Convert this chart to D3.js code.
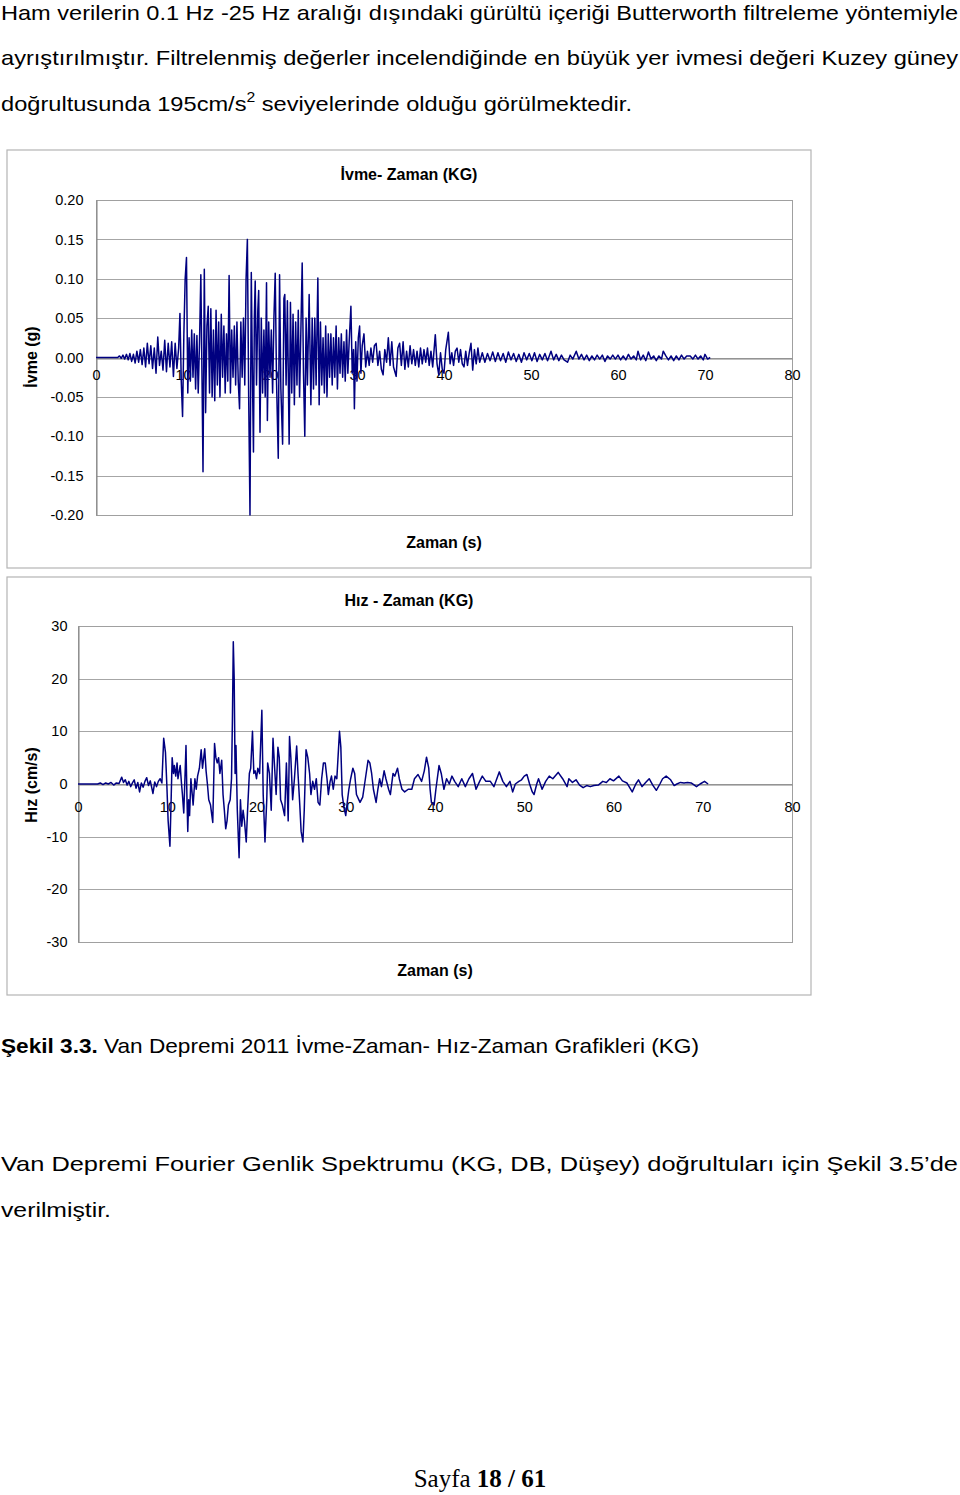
<!DOCTYPE html>
<html><head><meta charset="utf-8">
<script src="https://cdn.jsdelivr.net/npm/d3@7"></script>
<style>body{margin:0;background:#fff}svg{display:block}</style>
</head><body>
<script>
// ---------- DATA ----------
const xTicks = [0,10,20,30,40,50,60,70,80];
const accYTicks = [-0.20,-0.15,-0.10,-0.05,0.00,0.05,0.10,0.15,0.20];
const velYTicks = [-30,-20,-10,0,10,20,30];

// Acceleration (g) vs time (s)
const accel = [[0,0],[2.5,0],[2.7,0.002],[2.9,-0.001],[3.1,0.003],[3.3,-0.002],[3.5,0.004],[3.7,-0.003],[3.9,0.005],[4.1,-0.005],[4.3,0.004],[4.5,-0.007],[4.7,0.008],[4.9,-0.006],[5.1,0.01],[5.3,-0.009],[5.5,0.012],[5.7,-0.012],[5.9,0.018],[6.1,-0.008],[6.3,0.015],[6.5,-0.014],[6.7,0.012],[6.9,-0.02],[7.1,0.026],[7.3,-0.01],[7.5,0.008],[7.7,-0.016],[7.9,0.022],[8.1,-0.018],[8.3,0.018],[8.5,-0.012],[8.7,0.02],[8.9,-0.024],[9.1,0.018],[9.3,-0.014],[9.5,0.012],[9.65,0.056],[9.8,-0.03],[9.95,-0.075],[10.1,0.03],[10.25,0.1],[10.4,0.127],[10.55,-0.045],[10.7,0.025],[10.85,-0.03],[11.0,0.035],[11.15,-0.025],[11.3,0.03],[11.45,-0.04],[11.6,0.028],[11.75,-0.045],[11.9,0.02],[12.05,0.105],[12.2,-0.04],[12.3,-0.145],[12.45,0.112],[12.6,-0.07],[12.75,0.04],[12.9,0.065],[13.05,-0.045],[13.2,0.062],[13.35,-0.05],[13.5,0.035],[13.65,-0.055],[13.8,0.06],[13.95,-0.035],[14.1,0.045],[14.25,-0.05],[14.4,0.055],[14.55,-0.025],[14.7,0.04],[14.85,-0.045],[15.0,0.03],[15.15,-0.03],[15.3,0.104],[15.45,-0.045],[15.6,0.035],[15.75,-0.025],[15.9,0.04],[16.05,-0.035],[16.2,0.045],[16.35,-0.03],[16.5,-0.065],[16.65,0.045],[16.8,-0.025],[16.95,0.05],[17.1,-0.035],[17.25,0.1],[17.4,0.15],[17.55,-0.05],[17.7,-0.2],[17.85,0.108],[18.0,-0.04],[18.1,-0.12],[18.2,0.05],[18.3,0.097],[18.45,-0.035],[18.6,0.06],[18.7,0.085],[18.85,-0.095],[19.0,0.05],[19.15,-0.045],[19.3,0.035],[19.45,-0.05],[19.6,0.095],[19.7,-0.08],[19.85,0.045],[20.0,-0.025],[20.15,0.035],[20.3,-0.045],[20.45,0.05],[20.6,0.107],[20.75,-0.03],[20.95,-0.128],[21.1,0.105],[21.25,-0.04],[21.45,-0.11],[21.6,0.075],[21.7,0.08],[21.85,-0.035],[22.0,0.072],[22.2,-0.11],[22.35,0.07],[22.5,-0.045],[22.65,0.055],[22.8,-0.06],[22.95,0.045],[23.1,-0.035],[23.25,0.06],[23.4,-0.05],[23.7,0.12],[23.85,-0.02],[24.0,-0.1],[24.15,0.05],[24.3,-0.035],[24.5,0.08],[24.7,-0.06],[24.85,0.05],[25.0,-0.04],[25.15,0.05],[25.3,-0.035],[25.5,0.101],[25.65,-0.06],[25.8,0.045],[25.95,-0.035],[26.1,0.025],[26.25,-0.045],[26.4,0.04],[26.55,-0.05],[26.7,0.03],[26.85,-0.025],[27.0,0.03],[27.15,-0.035],[27.3,0.025],[27.45,-0.025],[27.6,0.04],[27.75,-0.04],[27.9,0.025],[28.05,-0.02],[28.2,0.03],[28.35,-0.025],[28.5,0.02],[28.65,-0.03],[28.8,0.035],[28.95,-0.02],[29.1,0.02],[29.3,0.065],[29.45,-0.02],[29.6,0.01],[29.7,-0.065],[29.85,0.02],[30.0,-0.03],[30.15,0.025],[30.3,0.04],[30.45,-0.02],[30.6,0.015],[30.8,0.03],[31.0,-0.012],[31.2,0.008],[31.4,-0.01],[31.6,0.012],[31.8,-0.006],[32.0,0.015],[32.2,0.018],[32.4,-0.01],[32.6,0.008],[32.8,-0.015],[33.0,-0.022],[33.2,0.01],[33.4,-0.006],[33.6,0.025],[33.8,-0.01],[34.0,0.02],[34.2,-0.012],[34.5,-0.024],[34.7,0.012],[34.9,0.018],[35.1,-0.01],[35.3,0.02],[35.5,-0.015],[35.7,0.008],[35.9,-0.012],[36.1,0.015],[36.3,-0.008],[36.5,0.01],[36.7,-0.01],[36.9,0.008],[37.1,-0.012],[37.3,0.012],[37.5,-0.008],[37.7,0.01],[37.9,-0.006],[38.1,0.012],[38.3,-0.01],[38.5,0.008],[38.7,-0.012],[39.0,0.029],[39.2,-0.008],[39.4,-0.022],[39.6,0.006],[39.8,-0.015],[40.0,-0.02],[40.2,0.01],[40.5,0.032],[40.7,-0.008],[40.9,0.006],[41.1,-0.01],[41.3,0.008],[41.5,0.012],[41.7,-0.006],[41.9,0.01],[42.1,-0.008],[42.3,-0.012],[42.5,0.008],[42.7,-0.01],[42.9,0.006],[43.1,0.018],[43.3,-0.016],[43.5,0.01],[43.7,-0.008],[43.9,0.012],[44.1,-0.006],[44.4,0.006],[44.7,-0.006],[45.0,0.005],[45.3,-0.004],[45.6,0.007],[45.9,-0.005],[46.2,0.006],[46.5,-0.004],[46.8,0.005],[47.1,-0.006],[47.4,0.007],[47.7,-0.003],[48.0,0.005],[48.3,-0.005],[48.6,0.004],[48.9,-0.006],[49.2,0.006],[49.5,-0.003],[49.8,0.005],[50.1,-0.004],[50.4,0.006],[50.7,-0.005],[51.0,0.004],[51.3,-0.003],[51.6,0.005],[51.9,-0.004],[52.3,0.008],[52.6,-0.003],[52.9,0.004],[53.2,-0.004],[53.5,0.003],[53.8,-0.003],[54.2,-0.006],[54.5,0.003],[54.8,-0.002],[55.2,0.008],[55.5,-0.002],[55.8,0.004],[56.1,-0.003],[56.4,0.003],[56.7,-0.004],[57.0,0.002],[57.3,-0.003],[57.6,0.003],[57.9,-0.002],[58.2,0.003],[58.5,-0.005],[58.8,0.002],[59.1,-0.002],[59.4,0.003],[59.7,-0.002],[60.0,0.003],[60.3,-0.003],[60.6,0.002],[60.9,-0.003],[61.2,0.004],[61.5,-0.002],[61.8,0.002],[62.1,-0.003],[62.3,0.008],[62.6,-0.003],[62.9,0.003],[63.2,-0.004],[63.5,0.007],[63.8,-0.002],[64.1,0.002],[64.4,-0.004],[64.7,0.002],[65.0,-0.002],[65.2,0.008],[65.5,0.002],[65.8,-0.003],[66.1,0.002],[66.4,-0.004],[66.7,0.002],[67.0,-0.003],[67.3,0.003],[67.6,-0.002],[67.9,0.002],[68.3,0.002],[68.6,-0.002],[68.9,0.003],[69.2,-0.002],[69.5,0.002],[69.8,-0.003],[70.0,0.004],[70.3,-0.002],[70.6,0.0]];

// Velocity (cm/s) vs time (s)
const velocity = [[0,0],[2.2,0],[2.5,0.2],[2.8,-0.1],[3.1,0.2],[3.4,0],[3.7,0.3],[4.0,-0.2],[4.3,0.2],[4.6,0.1],[4.9,1.3],[5.1,0.3],[5.3,0.8],[5.5,-0.2],[5.7,0.5],[5.9,-0.5],[6.1,0.2],[6.3,0.8],[6.5,-0.8],[6.7,0.3],[6.9,-1.5],[7.1,0.2],[7.3,-0.6],[7.5,0.5],[7.7,1.2],[7.9,-0.3],[8.1,0.6],[8.4,-1.8],[8.6,0.4],[8.8,-0.5],[9.0,0.5],[9.2,1.0],[9.4,0.2],[9.6,8.7],[9.8,6],[9.95,0],[10.1,-7],[10.3,-11.8],[10.45,-2],[10.55,5],[10.7,2],[10.8,3.5],[10.95,1.5],[11.1,4],[11.2,1],[11.3,2],[11.45,3.5],[11.6,0],[11.7,-2],[11.85,-5.5],[12.0,2],[12.1,7.3],[12.2,-2],[12.3,-9],[12.4,-3],[12.5,-6],[12.65,1],[12.8,-2],[12.9,-4],[13.1,1],[13.25,-1],[13.4,1.5],[13.6,3],[13.8,6.5],[13.95,3],[14.05,4.5],[14.2,6.7],[14.35,2.5],[14.5,0],[14.65,-3],[14.85,-4],[15.0,-6],[15.1,-7.3],[15.3,7.7],[15.45,5],[15.6,4],[15.75,5],[15.9,2],[16.1,4.5],[16.25,-2],[16.4,-5],[16.55,-8.5],[16.7,-7],[16.85,-4],[17.05,-3],[17.2,1],[17.3,12],[17.4,27],[17.5,20],[17.6,2],[17.7,7.3],[17.85,-5],[18.05,-14],[18.2,-3],[18.35,-8],[18.5,-5],[18.65,-7],[18.85,-11],[19.0,-5],[19.2,2],[19.35,3],[19.55,10],[19.7,2],[19.85,2.5],[20.0,1],[20.15,3],[20.35,2],[20.6,14],[20.75,-2],[20.95,-11],[21.15,-3],[21.25,4],[21.45,2],[21.65,-5],[21.85,8.7],[22.0,4],[22.2,-2],[22.4,7],[22.55,5],[22.7,-3],[22.9,-4],[23.15,-6],[23.35,4],[23.55,-7],[23.7,9],[23.85,5],[24.05,-3],[24.25,1],[24.5,7.2],[24.65,2],[24.85,-4],[25.0,-9],[25.2,-11],[25.35,-5],[25.55,6.5],[25.75,5],[25.95,2],[26.1,-2],[26.3,0.5],[26.5,-1],[26.7,1],[26.9,-3.5],[27.1,-4],[27.3,1],[27.5,4],[27.7,4],[27.9,1],[28.05,-2],[28.25,0.5],[28.4,1.5],[28.6,-1],[28.8,1.5],[29.0,1],[29.3,10],[29.45,7],[29.6,-2],[29.8,-4.5],[30.0,-6],[30.2,-3],[30.35,-1],[30.55,1],[30.8,3],[31.0,2],[31.2,-2],[31.6,-3.5],[31.9,-2.5],[32.2,1],[32.5,4.5],[32.7,4],[32.9,2],[33.1,-1],[33.4,-3.5],[33.6,-1],[33.8,1],[34.0,-0.5],[34.3,2.5],[34.5,1],[34.8,-1],[35.0,-2],[35.3,2],[35.5,1.5],[35.8,3],[36.0,1],[36.3,-1],[36.6,-1.5],[37.0,-1],[37.4,-1],[37.7,1],[38.1,1.8],[38.5,0.5],[38.8,2.5],[39.05,5.1],[39.3,3],[39.45,-1],[39.6,-3.5],[39.9,-4],[40.1,-1],[40.45,3.5],[40.7,2],[41.0,-1],[41.3,1],[41.6,0],[41.9,1.5],[42.2,0.5],[42.6,-0.5],[43.0,1],[43.4,-0.5],[43.8,1],[44.2,2],[44.6,-1],[45.0,0.5],[45.3,1.5],[45.7,0.5],[46.2,0.5],[46.6,-0.5],[47.2,2.3],[47.6,0.5],[48.0,-0.5],[48.4,0.5],[48.7,-1.5],[49.0,0],[49.4,0.5],[49.7,0.8],[50.0,1.5],[50.3,1.8],[50.6,0],[50.9,-1.5],[51.1,-2],[51.4,0],[51.6,1],[52.0,-1],[52.4,0.5],[52.8,1.5],[53.2,1],[53.8,2.2],[54.3,1],[54.8,-0.5],[55.0,1],[55.4,0.3],[55.8,0.8],[56.2,-0.2],[56.6,-0.7],[57.0,-0.3],[57.4,-0.5],[57.8,-0.3],[58.3,-0.2],[58.8,0.5],[59.2,0.3],[59.6,1],[60.0,0.6],[60.6,1.5],[61.0,0.6],[61.5,0.2],[62.1,-1.5],[62.5,0],[62.8,0.8],[63.2,-0.5],[63.6,0.3],[64.0,1],[64.4,-0.2],[64.8,-1.2],[65.2,0],[65.5,1],[65.9,1.5],[66.4,0.8],[66.8,-0.3],[67.1,0],[67.5,0.3],[67.9,0.2],[68.3,0.3],[68.7,0.2],[69.3,-0.5],[69.7,0],[70.2,0.5],[70.6,0]];

// Texts
const para1 = ["Ham verilerin 0.1 Hz -25 Hz aralığı dışındaki gürültü içeriği Butterworth filtreleme yöntemiyle",
               "ayrıştırılmıştır. Filtrelenmiş değerler incelendiğinde en büyük yer ivmesi değeri Kuzey güney"];
const para1Last = ["doğrultusunda 195cm/s", "2", " seviyelerinde olduğu görülmektedir."];
const captionBold = "Şekil 3.3.";
const captionRest = " Van Depremi 2011 İvme-Zaman- Hız-Zaman Grafikleri (KG)";
const para2 = ["Van Depremi Fourier Genlik Spektrumu (KG, DB, Düşey) doğrultuları için Şekil 3.5’de", "verilmiştir."];

// ---------- DRAW ----------
const W = 960, H = 1495;
const svg = d3.select("body").append("svg").attr("width", W).attr("height", H);
const bodyFont = "'Liberation Sans', Arial, sans-serif";

// paragraph 1
svg.append("text").attr("x", 1).attr("y", 20).attr("font-family", bodyFont).attr("font-size", 21)
  .attr("textLength", 957).attr("lengthAdjust", "spacingAndGlyphs").text(para1[0]);
svg.append("text").attr("x", 1).attr("y", 65).attr("font-family", bodyFont).attr("font-size", 21)
  .attr("textLength", 957).attr("lengthAdjust", "spacingAndGlyphs").text(para1[1]);
const l3 = svg.append("text").attr("x", 1).attr("y", 111).attr("font-family", bodyFont).attr("font-size", 21)
  .attr("textLength", 631).attr("lengthAdjust", "spacingAndGlyphs");
l3.append("tspan").text(para1Last[0]);
l3.append("tspan").attr("dy", -9).attr("font-size", 14).text(para1Last[1]);
l3.append("tspan").attr("dy", 9).text(para1Last[2]);

function chart(cfg) {
  const g = svg.append("g");
  // outer frame
  g.append("rect").attr("x", cfg.frame[0]).attr("y", cfg.frame[1])
    .attr("width", cfg.frame[2]).attr("height", cfg.frame[3])
    .attr("fill", "#fff").attr("stroke", "#b4b4b4").attr("stroke-width", 1.2);
  const x = d3.scaleLinear().domain([0, 80]).range([cfg.left, cfg.right]);
  const y = d3.scaleLinear().domain(cfg.yDomain).range([cfg.bottom, cfg.top]);
  // gridlines
  g.append("g").selectAll("line").data(cfg.yTicks).join("line")
    .attr("x1", cfg.left).attr("x2", cfg.right)
    .attr("y1", d => Math.round(y(d)) + 0.5).attr("y2", d => Math.round(y(d)) + 0.5)
    .attr("stroke", "#a6a6a6").attr("stroke-width", 1);
  // plot border
  g.append("rect").attr("x", cfg.left + 0.5).attr("y", Math.round(cfg.top) + 0.5)
    .attr("width", cfg.right - cfg.left).attr("height", Math.round(cfg.bottom) - Math.round(cfg.top))
    .attr("fill", "none").attr("stroke", "#a0a0a0");
  const tf = "'Liberation Sans', Arial, sans-serif";
  // y axis
  const ya = d3.axisLeft(y).tickValues(cfg.yTicks).tickSize(0).tickPadding(cfg.yPad).tickFormat(cfg.fmt);
  const yg = g.append("g").attr("transform", `translate(${cfg.left + 0.5},0)`).call(ya);
  yg.select(".domain").attr("stroke", "#808080");
  yg.selectAll("text").attr("font-family", tf).attr("font-size", 14.5).attr("fill", "#000");
  // x axis at zero
  const xa = d3.axisBottom(x).tickValues(xTicks).tickSize(0).tickPadding(cfg.xPad).tickFormat(d => String(d));
  const xg = g.append("g").attr("transform", `translate(0,${Math.round(y(0)) + 0.5})`).call(xa);
  xg.select(".domain").attr("stroke", "#808080");
  xg.selectAll("text").attr("font-family", tf).attr("font-size", 14.5).attr("fill", "#000");
  // line
  const line = d3.line().x(d => x(d[0])).y(d => y(d[1]));
  g.append("path").datum(cfg.data).attr("d", line).attr("fill", "none")
    .attr("stroke", "#000080").attr("stroke-width", 1.5).attr("stroke-linejoin", "round");
  // titles
  g.append("text").attr("x", cfg.frame[0] + cfg.frame[2] / 2).attr("y", cfg.titleY)
    .attr("text-anchor", "middle").attr("font-family", tf).attr("font-weight", "bold")
    .attr("font-size", 16).text(cfg.title);
  g.append("text").attr("x", (cfg.left + cfg.right) / 2).attr("y", cfg.xTitleY)
    .attr("text-anchor", "middle").attr("font-family", tf).attr("font-weight", "bold")
    .attr("font-size", 16).text("Zaman (s)");
  g.append("text").attr("transform", `translate(37,${cfg.yTitleC}) rotate(-90)`)
    .attr("text-anchor", "middle").attr("font-family", tf).attr("font-weight", "bold")
    .attr("font-size", 16).text(cfg.yTitle);
}

chart({
  frame: [7, 150, 804, 418], left: 96, right: 792, top: 200, bottom: 515,
  yDomain: [-0.2, 0.2], yTicks: accYTicks, fmt: d => d.toFixed(2), yPad: 13, xPad: 11,
  data: accel, title: "İvme- Zaman (KG)", titleY: 180, xTitleY: 548,
  yTitle: "İvme (g)", yTitleC: 357
});
chart({
  frame: [7, 577, 804, 418], left: 78, right: 792, top: 626, bottom: 942,
  yDomain: [-30, 30], yTicks: velYTicks, fmt: d => String(d), yPad: 11, xPad: 17,
  data: velocity, title: "Hız - Zaman (KG)", titleY: 606, xTitleY: 976,
  yTitle: "Hız (cm/s)", yTitleC: 785
});

// caption
const cap = svg.append("text").attr("x", 1).attr("y", 1053).attr("font-family", bodyFont)
  .attr("font-size", 21).attr("textLength", 698).attr("lengthAdjust", "spacingAndGlyphs");
cap.append("tspan").attr("font-weight", "bold").text(captionBold);
cap.append("tspan").text(captionRest);

// paragraph 2
svg.append("text").attr("x", 1).attr("y", 1171).attr("font-family", bodyFont).attr("font-size", 21)
  .attr("textLength", 957).attr("lengthAdjust", "spacingAndGlyphs").text(para2[0]);
svg.append("text").attr("x", 1).attr("y", 1217).attr("font-family", bodyFont).attr("font-size", 21)
  .attr("textLength", 110).attr("lengthAdjust", "spacingAndGlyphs").text(para2[1]);

// footer
const ft = svg.append("text").attr("x", 480).attr("y", 1487).attr("text-anchor", "middle")
  .attr("font-family", "'Liberation Serif', 'Times New Roman', serif").attr("font-size", 25);
ft.append("tspan").text("Sayfa ");
ft.append("tspan").attr("font-weight", "bold").text("18 / 61");
</script>
</body></html>
